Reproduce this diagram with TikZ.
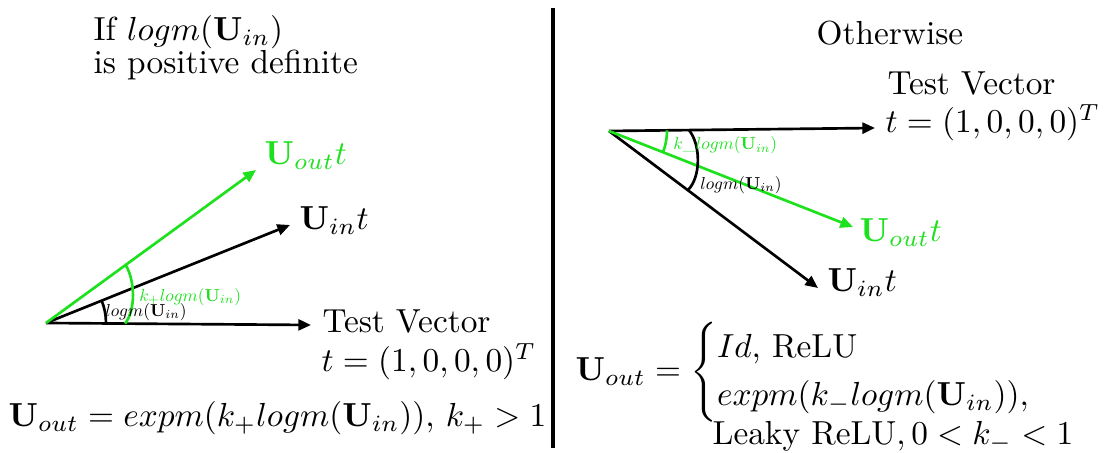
\documentclass[tikz,border=0pt]{standalone}
\usepackage{amsmath}
\usetikzlibrary{arrows.meta}
\definecolor{vgreen}{RGB}{30,225,30}
\begin{document}
\begin{tikzpicture}[x=0.30pt,y=-0.30pt,
  vec/.style={line width=0.8pt,-{Triangle[length=3.8pt,width=3.3pt]}},
  angarc/.style={line width=0.8pt},
  lbl/.style={inner sep=0pt,anchor=base west},
  small/.style={inner sep=0pt,anchor=west,scale=0.52}]
\useasboundingbox (0,0) rectangle (1107,453);
% divider
\coordinate (D1) at (553,8);
\coordinate (D2) at (553,448);
\draw[line width=1.25pt] (D1) -- (D2);
% ---------- left panel ----------
\coordinate (O1) at (46,323);
\coordinate (T1) at (311,325);
\coordinate (I1) at (290,225);
\coordinate (G1) at (256,170);
\draw[vec] (O1) -- (T1);
\draw[vec] (O1) -- (I1);
\draw[vec,vgreen] (O1) -- (G1);
\draw[angarc] (O1) ++(0.43:60) arc[start angle=0.43,end angle=-21.9,radius=60];
\coordinate (GA1) at (125,323.6);
\coordinate (GA2) at (125.6,265);
\draw[angarc,vgreen] (GA1) .. controls (136,310) and (135,280) .. (GA2);
\node[small] (la1) at (105,312) {$logm(\mathbf{U}_{in})$};
\node[small,text=vgreen] (lg1) at (139,297) {$k_{+}logm(\mathbf{U}_{in})$};
\node[lbl] (if1) at (93,41) {If $logm(\mathbf{U}_{in})$};
\node[lbl] (if2) at (93,73.5) {is positive definite};
\node[lbl,text=vgreen] (uo1) at (264,165) {$\mathbf{U}_{out}t$};
\node[lbl] (ui1) at (299,230) {$\mathbf{U}_{in}t$};
\node[lbl] (tv1) at (322,333) {Test Vector};
\node[lbl] (tt1) at (321,372) {$t=(1,0,0,0)^T$};
\node[lbl] (f1) at (8,427) {$\mathbf{U}_{out}=expm(k_{+}logm(\mathbf{U}_{in}))$, $k_{+}>1$};
% ---------- right panel ----------
\coordinate (O2) at (609,131);
\coordinate (T2) at (875,128);
\coordinate (G2) at (853,227);
\coordinate (I2) at (818,288);
\draw[vec] (O2) -- (T2);
\draw[vec] (O2) -- (I2);
\draw[vec,vgreen] (O2) -- (G2);
\draw[angarc,vgreen] (O2) ++(-0.65:58) arc[start angle=-0.65,end angle=21.5,radius=58];
\coordinate (BA1) at (689,130.1);
\coordinate (BA2) at (688,190);
\draw[angarc] (BA1) .. controls (701,145) and (701,177) .. (BA2);
\node[small,text=vgreen] (lg2) at (673,145.5) {$k\_logm(\mathbf{U}_{in})$};
\node[small] (la2) at (700,185) {$logm(\mathbf{U}_{in})$};
\node[lbl] (ow) at (816,45) {Otherwise};
\node[lbl] (tv2) at (887,95) {Test Vector};
\node[lbl] (tt2) at (885,133) {$t=(1,0,0,0)^T$};
\node[lbl,text=vgreen] (uo2) at (859,241.5) {$\mathbf{U}_{out}t$};
\node[lbl] (ui2) at (827,292) {$\mathbf{U}_{in}t$};
\node[inner sep=0pt,anchor=west] (f2) at (575,372) {$\mathbf{U}_{out}=\begin{cases}Id\text{, ReLU}\\ expm(k_{-}logm(\mathbf{U}_{in})),\end{cases}$};
\node[lbl] (f3) at (712,445) {Leaky ReLU$,0<k_{-}<1$};
\end{tikzpicture}
\end{document}
